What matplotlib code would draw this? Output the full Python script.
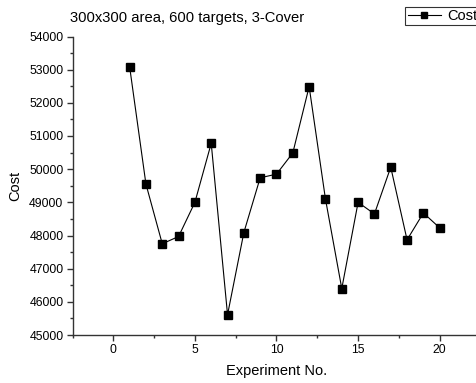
import matplotlib
matplotlib.use('Agg')
import matplotlib.pyplot as plt
from matplotlib.ticker import MultipleLocator

plt.rcParams['font.family'] = ['Liberation Sans', 'DejaVu Sans']

# data
experiment = list(range(1, 21))
cost = [53090, 49550, 47750, 47970, 49000, 50780, 45610, 48090, 49740, 49850,
        50490, 52490, 49100, 46400, 49000, 48650, 50060, 47870, 48680, 48230]

title = '300x300 area, 600 targets, 3-Cover'

fig = plt.figure(figsize=(4.77, 3.83), dpi=100)
ax = fig.add_axes([72.5 / 477, 48 / 383, 408 / 477, 298.5 / 383])

ax.plot(experiment, cost, 'k-', lw=0.8, marker='s', ms=5.6, mfc='black',
        mec='black', label='Cost', clip_on=False)

ax.set_xlim(-2.5, 22.5)
ax.set_ylim(45000, 54000)
ax.xaxis.set_major_locator(MultipleLocator(5))
ax.xaxis.set_minor_locator(MultipleLocator(2.5))
ax.yaxis.set_major_locator(MultipleLocator(1000))
ax.yaxis.set_minor_locator(MultipleLocator(500))

for s in ['top', 'right']:
    ax.spines[s].set_visible(False)
for s in ['left', 'bottom']:
    ax.spines[s].set_linewidth(1.0)
    ax.spines[s].set_color('#333333')

ax.tick_params(which='major', direction='out', length=4.5, width=1.0,
               labelsize=8.8, color='#333333', pad=2)
ax.tick_params(which='minor', direction='out', length=2.5, width=1.0,
               color='#333333')

ax.set_xlabel('Experiment No.', fontsize=10.5, labelpad=6)
ax.set_ylabel('Cost', fontsize=10.5, labelpad=5)
fig.text(70 / 477, 1 - 18 / 383, title, fontsize=10.6, ha='left', va='center')

leg = fig.legend(loc='upper left', bbox_to_anchor=(405.5 / 477, 1 - 7 / 383),
                 fontsize=10.5, frameon=True, fancybox=False, borderpad=0.15,
                 handlelength=2.3, handletextpad=0.4, borderaxespad=0,
                 markerscale=0.85)
leg.get_frame().set_edgecolor('black')
leg.get_frame().set_linewidth(0.8)

fig.savefig('out.png', dpi=100)
